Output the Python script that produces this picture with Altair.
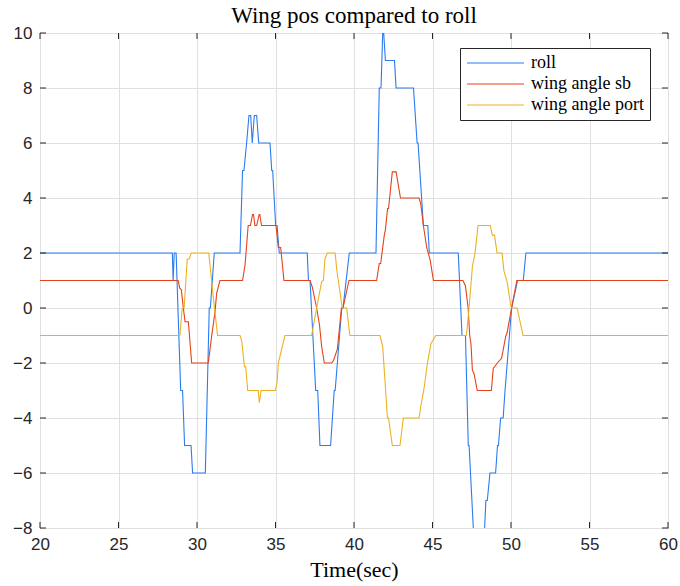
import altair as alt
import pandas as pd

# ---- data ----
roll_t = [20, 28.43, 28.48, 28.55, 28.67, 28.96, 29.08, 29.21, 29.62, 29.72, 30.53, 30.78, 30.85, 31.1,
          32.74, 32.9, 32.99, 33.16, 33.31, 33.42, 33.52, 33.65, 33.8, 33.93, 34.65, 34.76, 34.82, 35.01, 35.1, 35.24,
          37.02, 37.1, 37.2, 37.56, 37.69, 37.83, 38.51, 38.74, 38.8, 38.94, 39.22, 39.3, 39.7,
          41.4, 41.61, 41.72, 41.85, 42.0, 42.58, 42.68, 43.79, 44.02, 44.08, 44.42, 44.7, 44.8,
          46.64, 46.88, 47.1, 47.28, 47.33, 47.69, 48.24, 48.4, 48.49, 48.66, 49.02, 49.14, 49.2, 49.34, 49.5,
          49.62, 50.04, 50.42, 50.78, 50.95, 60]
roll_v = [2, 2, 1, 2, 2, -3, -3, -5, -5, -6, -6, 0, 0, 2,
          2, 5, 5, 6, 7, 7, 6, 7, 7, 6, 6, 5, 5, 3, 3, 2,
          2, 1, 1, -3, -3, -5, -5, -3, -3, -2, 0, 0, 2,
          2, 8, 8, 10.4, 9, 9, 8, 8, 6, 6, 3, 3, 2,
          2, -1, -1, -5, -5, -9, -9, -7, -7, -6, -6, -5, -5, -4, -4,
          -3, 0, 1, 1, 2, 2]

sb_t = [20, 28.8, 28.9, 29.0, 29.13, 29.24, 29.45, 29.66, 30.72, 30.93, 31.15, 31.25, 31.46,
        32.9, 33.06, 33.26, 33.4, 33.54, 33.6, 33.69, 33.8, 33.96, 34.0, 34.11, 35.03, 35.18, 35.33, 35.54,
        37.2, 37.35, 37.62, 37.8, 37.94, 38.11, 38.58, 38.7, 38.94, 39.2, 39.3, 39.68,
        41.44, 41.61, 41.7, 41.93, 42.0, 42.14, 42.2, 42.44, 42.68, 42.96, 44.14, 44.25, 44.42, 44.63, 44.85, 45.06,
        46.94, 47.1, 47.27, 47.37, 47.45, 47.54, 47.65, 47.85, 48.75, 48.87, 49.13, 49.4, 49.66, 49.75, 50.04, 50.37, 60]
sb_v = [1, 1, 0.72, 0.67, 0, -0.5, -0.5, -2, -2, -1.04, -0.13, 0.53, 1,
        1, 1.56, 3, 3, 3.4, 3.4, 3, 3, 3.4, 3.4, 3, 3, 2.2, 2.2, 1,
        1, 0.75, 0, -0.6, -1.4, -2, -2, -1.9, -1.5, 0, 0, 1,
        1, 1.62, 1.62, 2.65, 2.85, 3.62, 3.62, 4.95, 4.95, 4, 4, 3.8, 3, 2.2, 1.75, 1,
        1, 0.8, 0, -1, -1.3, -2.25, -2.4, -3, -3, -2.2, -2, -1.83, -1.04, -0.9, 0, 1, 1]

port_t = [20, 28.91, 29.06, 29.18, 29.38, 29.5, 29.64, 30.75, 31.0, 31.31,
          32.74, 32.85, 33.02, 33.1, 33.23, 33.9, 33.97, 34.08, 34.99, 35.1, 35.18, 35.6,
          37.3, 37.62, 37.94, 38.05, 38.15, 38.3, 38.8, 38.9, 39.25, 39.53, 39.74,
          41.66, 41.83, 42.13, 42.2, 42.44, 42.93, 43.14, 44.14, 44.25, 44.46, 44.68, 44.9, 45.21,
          47.16, 47.33, 47.54, 47.71, 47.9, 48.68, 48.81, 48.95, 49.11, 49.43, 49.55, 49.75, 50.01, 50.39, 50.6, 50.77, 60]
port_v = [-1, -1, 0, 0, 1.78, 1.78, 2, 2, 0.6, -1,
          -1, -1.2, -2.13, -2.13, -3, -3, -3.44, -3, -3, -2.7, -2, -1,
          -1, 0, 0.96, 1.0, 1.78, 2, 2, 1.4, 0, 0, -1,
          -1, -1.41, -4, -4, -5, -5, -4, -4, -3.6, -2.92, -2, -1.3, -1,
          -1, 0, 1.5, 2, 3, 3, 2.65, 2.65, 2, 2, 1.35, 0.96, 0, 0, -0.56, -1, -1]

series_names = ["roll", "wing angle sb", "wing angle port"]
series_colors = ["#2B7BF0", "#E4421B", "#EDB120"]
x_ticks = [20, 25, 30, 35, 40, 45, 50, 55, 60]
y_ticks = [-8, -6, -4, -2, 0, 2, 4, 6, 8, 10]

frames = []
for name, ts, vs in zip(series_names, [roll_t, sb_t, port_t], [roll_v, sb_v, port_v]):
    frames.append(pd.DataFrame({"t": ts, "v": vs, "series": name}))
df = pd.concat(frames, ignore_index=True)

W, H = 628, 495
TICK = 6
AX = "#262626"
SERIF = "Liberation Serif"
SANS = "Liberation Sans"

xscale = alt.Scale(domain=[20, 60], nice=False, zero=False)
yscale = alt.Scale(domain=[-8, 10], nice=False, zero=False)

lines = alt.Chart(df).mark_line(clip=True, strokeWidth=1.1).encode(
    x=alt.X("t:Q", scale=xscale,
            axis=alt.Axis(values=x_ticks, title="Time(sec)", grid=True, gridColor="#e0e0e0",
                          ticks=False, domain=False, labelFont=SANS, labelFontSize=17,
                          labelColor=AX, labelPadding=8, titleFont=SERIF, titleFontSize=22,
                          titleFontWeight="normal", titleColor="black", titlePadding=7,
                          labelFlush=False)),
    y=alt.Y("v:Q", scale=yscale,
            axis=alt.Axis(values=y_ticks, title=None, grid=True, gridColor="#e0e0e0",
                          ticks=False, domain=False, labelFont=SANS, labelFontSize=17,
                          labelColor=AX, labelPadding=8, labelFlush=False)),
    color=alt.Color("series:N", scale=alt.Scale(domain=series_names, range=series_colors),
                    legend=alt.Legend(title=None, orient="none", legendX=420, legendY=15,
                                      symbolType="stroke", symbolSize=3249, symbolStrokeWidth=1.2,
                                      clipHeight=18,
                                      labelFont=SERIF, labelFontSize=18, labelColor="black",
                                      labelOffset=6, padding=6, fillColor="white",
                                      strokeColor=AX, rowPadding=3, labelLimit=300)),
)

xt = pd.DataFrame({"x": x_ticks})
yt = pd.DataFrame({"y": y_ticks})
tick_bottom = alt.Chart(xt).mark_rule(color=AX, strokeWidth=1).encode(
    x=alt.X("x:Q", scale=xscale), y=alt.value(H - TICK), y2=alt.value(H))
tick_top = alt.Chart(xt).mark_rule(color=AX, strokeWidth=1).encode(
    x=alt.X("x:Q", scale=xscale), y=alt.value(0), y2=alt.value(TICK))
tick_left = alt.Chart(yt).mark_rule(color=AX, strokeWidth=1).encode(
    y=alt.Y("y:Q", scale=yscale), x=alt.value(0), x2=alt.value(TICK))
tick_right = alt.Chart(yt).mark_rule(color=AX, strokeWidth=1).encode(
    y=alt.Y("y:Q", scale=yscale), x=alt.value(W - TICK), x2=alt.value(W))

chart = alt.layer(lines, tick_bottom, tick_top, tick_left, tick_right).properties(
    width=W, height=H,
    autosize=alt.AutoSizeParams(type="none"),
    padding={"left": 40, "top": 33, "right": 12, "bottom": 58},
    title=alt.TitleParams("Wing pos compared to roll", font=SERIF, fontSize=23,
                          fontWeight="normal", color="black", anchor="middle", offset=7, dy=11),
    background="white",
).configure_view(stroke=AX, strokeWidth=1)

chart.save("out.html", embed_options={"renderer": "svg", "actions": False})
